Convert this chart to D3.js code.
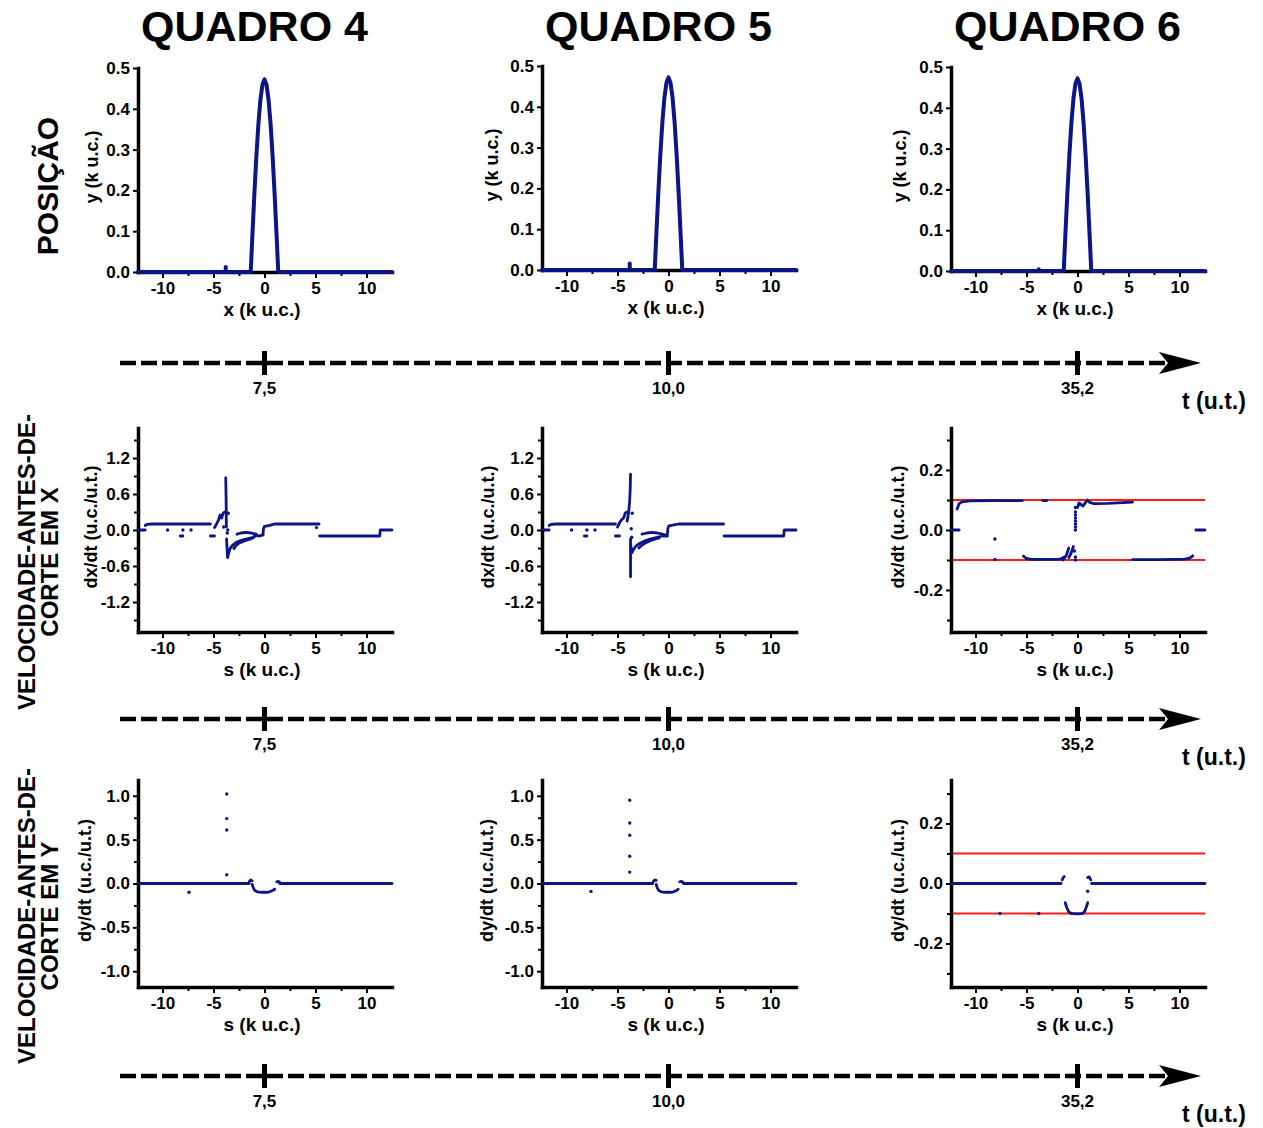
<!DOCTYPE html>
<html>
<head>
<meta charset="utf-8">
<script src="https://cdnjs.cloudflare.com/ajax/libs/d3/7.8.5/d3.min.js"></script>
<style>
  html, body { margin: 0; padding: 0; background: #fff; }
  svg { display: block; }
</style>
</head>
<body>
<svg id="fig" width="1263" height="1128"></svg>
<script>
// ---------------- labels ----------------
const frameTitles = ["QUADRO 4", "QUADRO 5", "QUADRO 6"];
const frameTimes = ["7,5", "10,0", "35,2"];
const rowTitles = [
  ["POSIÇÃO"],
  ["VELOCIDADE-ANTES-DE-", "CORTE EM X"],
  ["VELOCIDADE-ANTES-DE-", "CORTE EM Y"]
];
const timeAxisLabel = "t (u.t.)";
const xTitles = ["x (k u.c.)", "s (k u.c.)", "s (k u.c.)"];
const yTitles = ["y (k u.c.)", "dx/dt (u.c./u.t.)", "dy/dt (u.c./u.t.)"];

// ---------------- ticks ----------------
const sTicks = [-10, -5, 0, 5, 10];
const sMinorTicks = [-7.5, -2.5, 2.5, 7.5];
const posTicks = [0, 0.1, 0.2, 0.3, 0.4, 0.5];
const vxWideTicks = [-1.2, -0.6, 0, 0.6, 1.2];
const vxWideMinor = [-1.5, -0.9, -0.3, 0.3, 0.9, 1.5];
const vyWideTicks = [-1, -0.5, 0, 0.5, 1];
const vyWideMinor = [-0.75, -0.25, 0.25, 0.75];
const vNarrowTicks = [-0.2, 0, 0.2];
const vNarrowMinor = [-0.3, -0.1, 0.1, 0.3];
const cutoffLevels = [-0.1, 0.1];

// ---------------- string position y(x), k u.c. ----------------
const posCurve = [[-12.4, 0], [-1.35, 0], [-1.2, 0.082], [-1.0, 0.187], [-0.8, 0.282], [-0.6, 0.362],
  [-0.4, 0.422], [-0.2, 0.459], [0, 0.472], [0.2, 0.459], [0.4, 0.422], [0.6, 0.362], [0.8, 0.282],
  [1.0, 0.187], [1.2, 0.082], [1.35, 0], [12.5, 0]];
const posBlipQ4 = [[-3.8, 0], [-3.8, 0.012]];
const posBlipQ5 = [[-3.8, 0], [-3.8, 0.016]];
const posBlipQ6 = [[-3.8, 0], [-3.8, 0.004]];

// ---------------- dx/dt vs s ----------------
const vxQ4Runs = [
  [[-12.4, 0], [-11.7, 0]],
  [[-11.7, 0.075], [-11.5, 0.095], [-11.0, 0.1], [-5.3, 0.1]],
  [[-8.25, -0.1], [-8.0, -0.1]],
  [[-5.3, -0.1], [-4.9, -0.1]],
  [[-4.9, 0.04], [-4.7, 0.1], [-4.5, 0.17], [-4.35, 0.25], [-4.2, 0.2], [-4.05, 0.28], [-3.9, 0.3]],
  [[-3.74, 0.05], [-3.75, 0.35], [-3.77, 0.6], [-3.8, 0.87]],
  [[-3.72, -0.15], [-3.62, -0.46], [-3.5, -0.38], [-3.35, -0.3], [-3.1, -0.25], [-2.8, -0.21],
   [-2.4, -0.18], [-2.0, -0.16], [-1.5, -0.14], [-1.0, -0.12]],
  [[-3.0, -0.31], [-2.8, -0.26], [-2.5, -0.22], [-2.1, -0.19], [-1.6, -0.16], [-1.2, -0.14]],
  [[-2.7, -0.07], [-2.3, -0.05], [-1.8, -0.04], [-1.3, -0.05], [-0.8, -0.07]],
  [[-1.0, -0.09], [-0.5, -0.1], [-0.15, -0.08]],
  [[-0.15, -0.08], [-0.1, 0.02], [0.0, 0.06], [0.3, 0.07], [0.6, 0.08], [1.0, 0.1], [5.35, 0.1]],
  [[5.4, -0.1], [11.3, -0.1], [11.35, 0], [12.5, 0]]
];
const vxQ4Dots = [[-9.5, 0], [-8.0, 0], [-7.2, 0], [-3.55, 0.28], [-3.6, 0.0], [-3.65, -0.05],
  [-4.0, 0.05], [5.1, 0.04]];

const vxQ5Runs = [
  [[-12.4, 0], [-11.7, 0]],
  [[-11.7, 0.075], [-11.5, 0.095], [-11.0, 0.1], [-5.2, 0.1]],
  [[-8.25, -0.1], [-8.0, -0.1]],
  [[-5.2, -0.1], [-4.8, -0.1]],
  [[-5.0, 0.05], [-4.8, 0.12], [-4.6, 0.17], [-4.4, 0.2], [-4.25, 0.28], [-4.1, 0.3]],
  [[-4.05, 0.15], [-3.9, 0.3], [-3.8, 0.5], [-3.75, 0.7], [-3.72, 0.93]],
  [[-3.72, -0.15], [-3.72, -0.45], [-3.72, -0.78]],
  [[-3.7, -0.25], [-3.6, -0.38], [-3.45, -0.33], [-3.2, -0.27], [-2.8, -0.22], [-2.3, -0.18],
   [-1.8, -0.15], [-1.3, -0.13], [-0.8, -0.11]],
  [[-2.9, -0.3], [-2.6, -0.25], [-2.2, -0.21], [-1.8, -0.18], [-1.3, -0.15], [-0.9, -0.13]],
  [[-2.6, -0.07], [-2.1, -0.05], [-1.6, -0.04], [-1.1, -0.05], [-0.6, -0.07], [-0.2, -0.09]],
  [[-0.6, -0.1], [-0.1, -0.1]],
  [[-0.1, -0.06], [-0.05, 0.03], [0.05, 0.07], [0.4, 0.08], [1.0, 0.1], [5.4, 0.1]],
  [[5.45, -0.1], [11.3, -0.1], [11.35, 0], [12.5, 0]]
];
const vxQ5Dots = [[-9.5, 0], [-8.0, 0], [-7.2, 0], [-3.55, 0.28], [-3.65, 0.02], [-3.6, -0.12]];

const vxQ6Runs = [
  [[-12.4, 0], [-11.6, 0]],
  [[-11.8, 0.07], [-11.6, 0.088], [-11.3, 0.094], [-10.5, 0.097], [-8.3, 0.098]],
  [[-7.9, 0.098], [-5.4, 0.098]],
  [[-3.4, 0.098], [-3.0, 0.098]],
  [[-5.3, -0.087], [-5.0, -0.095], [-4.5, -0.098], [-2.0, -0.098], [-1.6, -0.096], [-1.3, -0.09]],
  [[-1.4, -0.1], [-1.1, -0.085], [-0.85, -0.06]],
  [[-0.85, -0.092], [-0.6, -0.075], [-0.4, -0.055]],
  [[0.0, 0.075], [0.15, 0.09], [0.35, 0.085], [0.55, 0.08], [0.75, 0.09], [0.95, 0.1], [1.2, 0.092],
   [1.6, 0.088], [3.0, 0.089], [5.4, 0.093]],
  [[5.4, -0.099], [8.0, -0.099], [10.5, -0.097], [11.0, -0.094], [11.3, -0.086]],
  [[11.6, 0], [12.5, 0]]
];
const vxQ6Dots = [[-8.1, 0.098], [-8.1, -0.03], [-8.1, -0.098], [-0.2, 0.0], [-0.2, 0.01], [-0.2, 0.02],
  [-0.2, 0.03], [-0.2, 0.04], [-0.2, 0.05], [-0.2, 0.06], [-0.2, 0.075], [-0.2, -0.09], [-0.2, -0.1],
  [-0.3, -0.07], [0.15, 0.085]];

// ---------------- dy/dt vs s ----------------
const vyQ4Runs = [
  [[-12.4, 0], [-1.5, 0]],
  [[-1.5, 0.02], [-1.35, 0.04], [-1.2, 0.03]],
  [[-1.2, -0.01], [-1.1, -0.05], [-0.95, -0.08], [-0.7, -0.095], [-0.3, -0.1], [0.2, -0.1],
   [0.5, -0.095], [0.8, -0.08], [1.0, -0.065]],
  [[1.2, 0.02], [1.35, 0.025], [1.5, 0.012]],
  [[1.5, 0], [12.5, 0]]
];
const vyQ4Dots = [[-7.4, -0.1], [-3.7, 1.02], [-3.7, 0.74], [-3.7, 0.61], [-3.7, 0.1]];

const vyQ5Runs = [
  [[-12.4, 0], [-1.55, 0]],
  [[-1.5, 0.02], [-1.35, 0.04], [-1.2, 0.035]],
  [[-1.2, -0.01], [-1.1, -0.05], [-0.95, -0.08], [-0.7, -0.095], [-0.3, -0.1], [0.2, -0.1],
   [0.5, -0.095], [0.8, -0.08], [0.95, -0.065]],
  [[1.1, 0.02], [1.25, 0.025], [1.45, 0.012]],
  [[1.45, 0], [12.5, 0]]
];
const vyQ5Dots = [[-7.6, -0.09], [-3.8, 0.95], [-3.8, 0.69], [-3.8, 0.55], [-3.8, 0.31], [-3.8, 0.13]];

const vyQ6Runs = [
  [[-12.4, 0], [-1.6, 0]],
  [[-1.5, 0.012], [-1.4, 0.02], [-1.3, 0.023]],
  [[-1.2, -0.064], [-1.05, -0.08], [-0.85, -0.095], [-0.6, -0.1], [0, -0.101], [0.5, -0.1],
   [0.7, -0.093], [0.85, -0.08], [1.0, -0.064]],
  [[1.0, 0.02], [1.15, 0.022], [1.3, 0.012]],
  [[1.38, 0], [12.5, 0]]
];
const vyQ6Dots = [[-7.6, -0.1], [-3.8, -0.1], [1.0, -0.026]];

// ---------------- layout ----------------
const FONT = "'Liberation Sans', Arial, Helvetica, sans-serif";
const NAVY = "#0b1586";
const RED = "#ff1a1a";
const colLeft = [138, 542, 951];
const plotW = 254;
const sDomain = [-12.4, 12.5];
const timelineY = [363, 719, 1076];
const yTitleOffset = [[46, 50, 51], [47, 54, 53], [53, 55, 53]];

const loc = d3.formatLocale({ decimal: ".", thousands: ",", grouping: [3], currency: ["", ""], minus: "-" });
const fmtDec = loc.format(".1f");
const fmtInt = loc.format("d");

const panels = [
  { row: 0, col: 0, top: 68, bottom: 272, yDomain: [0, 0.5], yTicks: posTicks, yMinor: [], runs: [posCurve, posBlipQ4], dots: [], lineW: 4 },
  { row: 0, col: 1, top: 66, bottom: 270, yDomain: [0, 0.5], yTicks: posTicks, yMinor: [], runs: [posCurve, posBlipQ5], dots: [], lineW: 4 },
  { row: 0, col: 2, top: 67, bottom: 271, yDomain: [0, 0.5], yTicks: posTicks, yMinor: [], runs: [posCurve, posBlipQ6], dots: [], lineW: 4 },
  { row: 1, col: 0, top: 428, bottom: 632, yDomain: [-1.7, 1.7], yTicks: vxWideTicks, yMinor: vxWideMinor, runs: vxQ4Runs, dots: vxQ4Dots, lineW: 2.8 },
  { row: 1, col: 1, top: 428, bottom: 632, yDomain: [-1.7, 1.7], yTicks: vxWideTicks, yMinor: vxWideMinor, runs: vxQ5Runs, dots: vxQ5Dots, lineW: 2.8 },
  { row: 1, col: 2, top: 428, bottom: 632, yDomain: [-0.34, 0.34], yTicks: vNarrowTicks, yMinor: vNarrowMinor, runs: vxQ6Runs, dots: vxQ6Dots, lineW: 2.8, cutoffs: cutoffLevels },
  { row: 2, col: 0, top: 780, bottom: 987, yDomain: [-1.18, 1.18], yTicks: vyWideTicks, yMinor: vyWideMinor, runs: vyQ4Runs, dots: vyQ4Dots, lineW: 2.8 },
  { row: 2, col: 1, top: 780, bottom: 987, yDomain: [-1.18, 1.18], yTicks: vyWideTicks, yMinor: vyWideMinor, runs: vyQ5Runs, dots: vyQ5Dots, lineW: 2.8 },
  { row: 2, col: 2, top: 780, bottom: 987, yDomain: [-0.345, 0.345], yTicks: vNarrowTicks, yMinor: vNarrowMinor, runs: vyQ6Runs, dots: vyQ6Dots, lineW: 2.8, cutoffs: cutoffLevels }
];

const svg = d3.select("#fig")
  .attr("font-family", FONT)
  .attr("font-weight", "bold");

svg.append("rect").attr("width", 1263).attr("height", 1128).attr("fill", "#fff");

const zeroX = [];

function styleAxis(a) {
  a.attr("font-family", FONT).attr("font-size", 17).attr("font-weight", "bold");
  a.select(".domain").attr("stroke", "#000").attr("stroke-width", 3.5).attr("stroke-linecap", "square");
  a.selectAll(".tick line").attr("stroke", "#000").attr("stroke-width", 2);
  a.selectAll(".tick text").attr("fill", "#000");
}

function drawPanel(p) {
  const left = colLeft[p.col], right = left + plotW;
  const x = d3.scaleLinear().domain(sDomain).range([left, right]);
  const y = d3.scaleLinear().domain(p.yDomain).range([p.bottom, p.top]);
  zeroX[p.col] = x(0);
  const g = svg.append("g");

  // cut-off speed levels
  if (p.cutoffs) {
    g.selectAll("line.cut").data(p.cutoffs).join("line").attr("class", "cut")
      .attr("x1", left).attr("x2", right)
      .attr("y1", d => y(d)).attr("y2", d => y(d))
      .attr("stroke", RED).attr("stroke-width", 2);
  }

  // minor ticks
  g.append("g").attr("transform", `translate(0,${p.bottom})`)
    .call(d3.axisBottom(x).tickValues(sMinorTicks).tickSize(4).tickFormat(""))
    .call(s => { s.select(".domain").remove(); s.selectAll("line").attr("stroke-width", 2); });
  if (p.yMinor.length) {
    g.append("g").attr("transform", `translate(${left},0)`)
      .call(d3.axisLeft(y).tickValues(p.yMinor).tickSize(4).tickFormat(""))
      .call(s => { s.select(".domain").remove(); s.selectAll("line").attr("stroke-width", 2); });
  }

  // main axes
  const xa = g.append("g").attr("transform", `translate(0,${p.bottom})`)
    .call(d3.axisBottom(x).tickValues(sTicks).tickFormat(fmtInt).tickSize(6).tickSizeOuter(0).tickPadding(4));
  const ya = g.append("g").attr("transform", `translate(${left},0)`)
    .call(d3.axisLeft(y).tickValues(p.yTicks).tickFormat(fmtDec).tickSize(5).tickSizeOuter(0).tickPadding(3));
  styleAxis(xa);
  styleAxis(ya);

  // axis titles
  g.append("text")
    .attr("x", (left + right) / 2 - 3).attr("y", p.bottom + 44)
    .attr("text-anchor", "middle").attr("font-size", 19).text(xTitles[p.row]);
  g.append("text")
    .attr("transform", `translate(${left - yTitleOffset[p.row][p.col]},${(p.top + p.bottom) / 2 - 3}) rotate(-90)`)
    .attr("text-anchor", "middle").attr("dy", "0.35em").attr("font-size", 18).text(yTitles[p.row]);

  // data
  const line = d3.line().x(d => x(d[0])).y(d => y(d[1]));
  g.selectAll("path.run").data(p.runs).join("path").attr("class", "run")
    .attr("d", line).attr("fill", "none").attr("stroke", NAVY)
    .attr("stroke-width", p.lineW).attr("stroke-linejoin", "round").attr("stroke-linecap", "round");
  g.selectAll("circle.pt").data(p.dots).join("circle").attr("class", "pt")
    .attr("cx", d => x(d[0])).attr("cy", d => y(d[1])).attr("r", 1.7).attr("fill", NAVY);
}

panels.forEach(drawPanel);

// frame titles
svg.selectAll("text.frame").data(frameTitles).join("text").attr("class", "frame")
  .attr("x", (d, i) => zeroX[i] - 10).attr("y", 41)
  .attr("text-anchor", "middle").attr("font-size", 43).text(d => d);

// row titles
const rowCenters = [[47, 186], [38, 562], [38, 916]];
rowTitles.forEach((lines, r) => {
  const [cx, cy] = rowCenters[r];
  const fs = r === 0 ? 30 : 24;
  const gap = 22.5;
  const t = svg.append("text")
    .attr("transform", `translate(${cx},${cy}) rotate(-90)`)
    .attr("text-anchor", "middle").attr("font-size", fs);
  lines.forEach((ln, k) => {
    t.append("tspan").attr("x", 0)
      .attr("y", (k - (lines.length - 1) / 2) * gap)
      .attr("dy", "0.36em").text(ln);
  });
});

// time arrows between the rows
timelineY.forEach(ty => {
  const g = svg.append("g");
  g.append("line").attr("x1", 120).attr("x2", 1166).attr("y1", ty).attr("y2", ty)
    .attr("stroke", "#000").attr("stroke-width", 4.5).attr("stroke-dasharray", "16,5");
  g.append("path")
    .attr("d", `M1201,${ty} L1159,${ty - 11} L1168,${ty} L1159,${ty + 11} Z`)
    .attr("fill", "#000");
  g.selectAll("line.tk").data(frameTimes).join("line").attr("class", "tk")
    .attr("x1", (d, i) => zeroX[i]).attr("x2", (d, i) => zeroX[i])
    .attr("y1", ty - 12).attr("y2", ty + 12)
    .attr("stroke", "#000").attr("stroke-width", 5);
  g.selectAll("text.tl").data(frameTimes).join("text").attr("class", "tl")
    .attr("x", (d, i) => zeroX[i]).attr("y", ty + 31)
    .attr("text-anchor", "middle").attr("font-size", 17).text(d => d);
  g.append("text").attr("x", 1214).attr("y", ty + 46)
    .attr("text-anchor", "middle").attr("font-size", 23).text(timeAxisLabel);
});
</script>
</body>
</html>
